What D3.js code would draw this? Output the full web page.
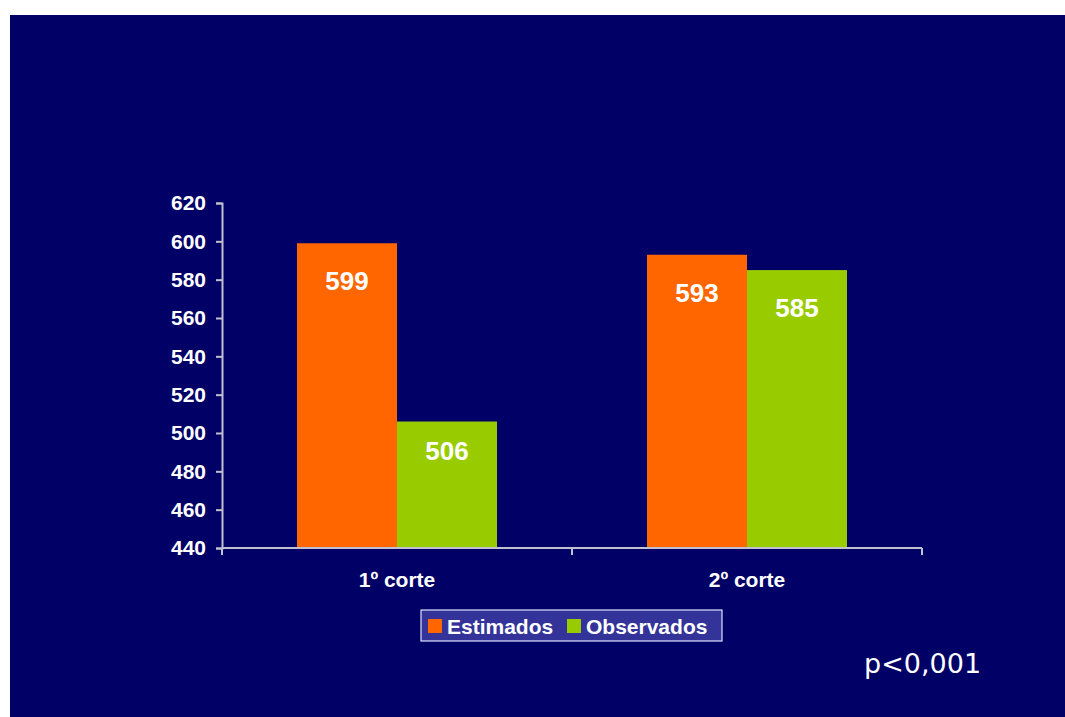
<!DOCTYPE html>
<html>
<head>
<meta charset="utf-8">
<script src="https://cdn.jsdelivr.net/npm/d3@7"></script>
<style>
  html, body { margin: 0; padding: 0; background: #ffffff; }
  svg { display: block; }
</style>
</head>
<body>
<svg id="chart" width="1065" height="717"></svg>
<script>
// Chart data
const categories = ["1º corte", "2º corte"];
const seriesNames = ["Estimados", "Observados"];
const estimados = [599, 593];
const observados = [506, 585];
const yTicks = [440, 460, 480, 500, 520, 540, 560, 580, 600, 620];
const pValueText = "p<0,001";

const colors = { Estimados: "#ff6600", Observados: "#99cc00" };
const seriesValues = { Estimados: estimados, Observados: observados };

const svg = d3.select("#chart");
const font = "'Liberation Sans', Arial, sans-serif";

// Slide background
svg.append("rect")
  .attr("x", 10).attr("y", 15)
  .attr("width", 1055).attr("height", 702)
  .attr("fill", "#000066");

const plot = { left: 222, right: 922, top: 203, bottom: 548 };

const x0 = d3.scaleBand()
  .domain(categories)
  .range([plot.left, plot.right])
  .paddingInner(0.4286)
  .paddingOuter(0.2143);

const x1 = d3.scaleBand()
  .domain(seriesNames)
  .range([0, x0.bandwidth()]);

const y = d3.scaleLinear()
  .domain([440, 620])
  .range([plot.bottom, plot.top]);

// Bars
const rows = [];
categories.forEach((c, i) => {
  seriesNames.forEach(s => rows.push({ cat: c, series: s, value: seriesValues[s][i] }));
});

const g = svg.append("g");
g.selectAll("rect.bar")
  .data(rows)
  .join("rect")
  .attr("class", "bar")
  .attr("x", d => x0(d.cat) + x1(d.series))
  .attr("y", d => y(d.value))
  .attr("width", x1.bandwidth())
  .attr("height", d => y(440) - y(d.value))
  .attr("fill", d => colors[d.series]);

// Value labels inside bars
g.selectAll("text.val")
  .data(rows)
  .join("text")
  .attr("class", "val")
  .attr("x", d => x0(d.cat) + x1(d.series) + x1.bandwidth() / 2)
  .attr("y", d => {
    const h = y(440) - y(d.value);
    return y(d.value) + Math.min(38, h * 0.232) + 9;
  })
  .attr("text-anchor", "middle")
  .attr("fill", "#ffffff")
  .attr("font-family", font)
  .attr("font-weight", "bold")
  .attr("font-size", 26)
  .text(d => d.value);

// Y axis
const yAxis = svg.append("g")
  .attr("transform", `translate(${plot.left},0)`)
  .call(d3.axisLeft(y).tickValues(yTicks).tickSize(6).tickPadding(10).tickFormat(d3.format("d")));
yAxis.select(".domain").attr("stroke", "#c0c0d0").attr("stroke-width", 2);
yAxis.selectAll(".tick line").attr("stroke", "#c0c0d0").attr("stroke-width", 2);
yAxis.selectAll(".tick text")
  .attr("fill", "#ffffff")
  .attr("font-family", font)
  .attr("font-weight", "bold")
  .attr("font-size", 21);

// X axis with boundary ticks between categories
const xAxisG = svg.append("g").attr("transform", `translate(0,${plot.bottom})`);
xAxisG.append("line")
  .attr("x1", plot.left).attr("x2", plot.right)
  .attr("stroke", "#c0c0d0").attr("stroke-width", 2);
const boundaries = [plot.left, (x0(categories[0]) + x0.bandwidth() + x0(categories[1])) / 2, plot.right];
xAxisG.selectAll("line.tk")
  .data(boundaries)
  .join("line")
  .attr("class", "tk")
  .attr("x1", d => d).attr("x2", d => d)
  .attr("y1", 0).attr("y2", 7)
  .attr("stroke", "#c0c0d0").attr("stroke-width", 2);
xAxisG.selectAll("text.cat")
  .data(categories)
  .join("text")
  .attr("class", "cat")
  .attr("x", d => x0(d) + x0.bandwidth() / 2)
  .attr("y", 39)
  .attr("text-anchor", "middle")
  .attr("fill", "#ffffff")
  .attr("font-family", font)
  .attr("font-weight", "bold")
  .attr("font-size", 21)
  .text(d => d);

// Legend
const legend = svg.append("g").attr("transform", "translate(421,610)");
legend.append("rect")
  .attr("x", 0).attr("y", 0)
  .attr("width", 301).attr("height", 31)
  .attr("fill", "#333399")
  .attr("stroke", "#e0e0ff").attr("stroke-width", 1.2);
const legendX = [7, 146];
seriesNames.forEach((s, i) => {
  legend.append("rect")
    .attr("x", legendX[i]).attr("y", 9)
    .attr("width", 14).attr("height", 14)
    .attr("fill", colors[s]);
  legend.append("text")
    .attr("x", legendX[i] + 19).attr("y", 24)
    .attr("fill", "#ffffff")
    .attr("font-family", font)
    .attr("font-weight", "bold")
    .attr("font-size", 21)
    .text(s);
});

// Significance note
svg.append("text")
  .attr("x", 864).attr("y", 673)
  .attr("fill", "#ffffff")
  .attr("font-family", "'DejaVu Sans', Verdana, sans-serif")
  .attr("font-size", 27)
  .text(pValueText);
</script>
</body>
</html>
